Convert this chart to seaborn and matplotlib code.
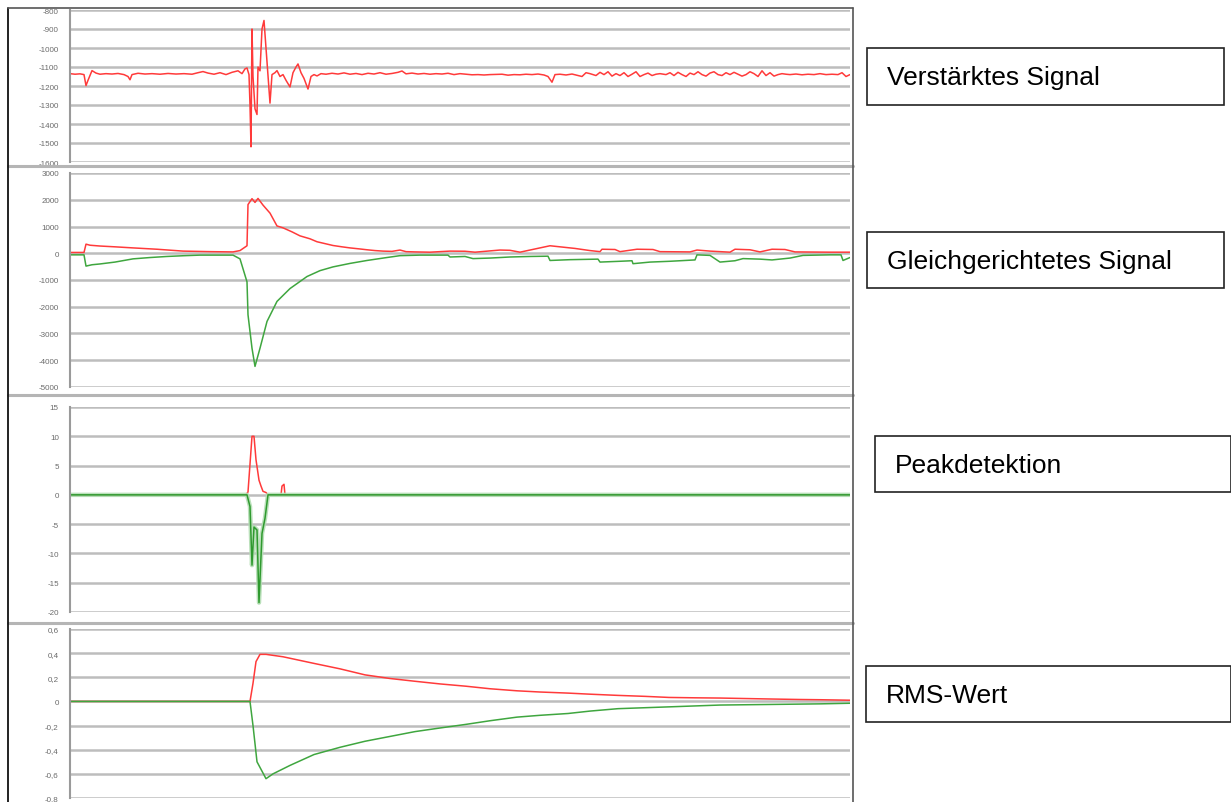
import numpy as np
import pandas as pd
import matplotlib
matplotlib.use("Agg")
import matplotlib.pyplot as plt
from matplotlib.patches import Rectangle
from matplotlib.lines import Line2D
import seaborn as sns

# ---------------- data (sample index, value) ----------------
t1 = [0, 5, 10, 14, 16, 18, 22, 26, 30, 36, 42, 48, 54, 58, 60, 62, 68, 75, 82, 90, 98, 106, 114, 122, 128, 133,
      138, 144, 150, 156, 162, 168, 172, 175, 177, 179, 180, 181, 182, 183, 185, 187, 188, 190, 192, 194, 196, 198,
      200, 202, 205, 207, 210, 213, 216, 220, 223, 226, 228, 231, 234, 238, 241, 244, 247, 251, 256, 262, 268, 274,
      280, 286, 292, 298, 304, 310, 316, 322, 328, 332, 336, 342, 348, 354, 360, 366, 372, 378, 384, 390, 396, 402,
      408, 414, 420, 426, 432, 438, 444, 450, 456, 462, 468, 474, 478, 482, 485, 490, 496, 502, 508, 512, 516, 520,
      526, 530, 534, 538, 542, 546, 550, 554, 558, 562, 566, 570, 574, 578, 582, 586, 590, 596, 600, 604, 608, 612,
      616, 620, 624, 628, 632, 636, 640, 644, 648, 652, 656, 660, 664, 668, 672, 676, 680, 684, 688, 692, 696, 700,
      704, 708, 712, 716, 720, 726, 732, 738, 744, 750, 756, 762, 768, 772, 776, 780]
v1 = [-1135, -1138, -1136, -1140, -1198, -1170, -1119, -1132, -1138, -1135, -1137, -1134, -1140, -1150, -1167, -1140,
      -1133, -1137, -1135, -1138, -1134, -1137, -1135, -1138, -1130, -1124, -1132, -1138, -1130, -1140, -1128, -1120,
      -1135, -1110, -1105, -1140, -1300, -1520, -900, -1150, -1320, -1350, -1100, -1120, -900, -855, -1000, -1150,
      -1290, -1140, -1130, -1119, -1150, -1140, -1170, -1205, -1130, -1100, -1084, -1130, -1160, -1216, -1150, -1140,
      -1147, -1135, -1138, -1133, -1137, -1131, -1138, -1134, -1140, -1133, -1137, -1130, -1138, -1134, -1128, -1121,
      -1136, -1132, -1137, -1134, -1138, -1135, -1137, -1133, -1140, -1135, -1138, -1141, -1140, -1142, -1140, -1139,
      -1138, -1143, -1140, -1141, -1138, -1140, -1137, -1142, -1150, -1180, -1140, -1138, -1142, -1137, -1145, -1150,
      -1130, -1135, -1145, -1128, -1140, -1125, -1148, -1135, -1145, -1130, -1150, -1138, -1125, -1150, -1140, -1132,
      -1145, -1138, -1135, -1140, -1130, -1145, -1128, -1140, -1150, -1132, -1140, -1125, -1140, -1148, -1132, -1125,
      -1140, -1145, -1130, -1140, -1128, -1138, -1148, -1140, -1125, -1135, -1150, -1120, -1145, -1130, -1148, -1140,
      -1135, -1138, -1140, -1137, -1141, -1138, -1140, -1135, -1140, -1138, -1140, -1130, -1150, -1140]

t2_pos = [0, 14, 16, 20, 30, 45, 63, 87, 113, 140, 163, 170, 177, 178, 182, 185, 188, 193, 200, 207, 213, 222, 230,
          240, 247, 255, 263, 272, 280, 290, 297, 305, 313, 322, 330, 336, 345, 360, 380, 395, 405, 430, 440, 450,
          480, 490, 505, 520, 530, 532, 545, 550, 567, 583, 590, 620, 627, 640, 660, 665, 680, 690, 702, 715, 725,
          760, 780]
v2_pos = [30, 30, 340, 300, 270, 240, 200, 150, 80, 60, 50, 100, 280, 1820, 2040, 1900, 2050, 1800, 1500, 1020, 950,
          800, 650, 540, 430, 360, 290, 240, 200, 160, 130, 100, 80, 70, 120, 60, 50, 40, 80, 75, 40, 120, 110, 40,
          280, 240, 180, 100, 60, 150, 140, 60, 150, 140, 60, 50, 120, 80, 40, 150, 130, 50, 150, 140, 50, 40, 40]

t2_neg = [0, 14, 16, 22, 30, 45, 63, 80, 97, 115, 130, 163, 170, 177, 178, 182, 185, 190, 197, 207, 220, 237, 250,
          263, 280, 297, 315, 330, 350, 378, 380, 395, 403, 420, 440, 460, 478, 480, 500, 528, 530, 550, 562, 563,
          580, 600, 625, 627, 640, 650, 665, 673, 690, 702, 720, 733, 760, 771, 773, 780]
v2_neg = [-60, -60, -480, -430, -400, -330, -210, -160, -120, -90, -70, -70, -210, -1070, -2300, -3550, -4230, -3550,
          -2550, -1800, -1320, -870, -650, -510, -380, -270, -170, -90, -70, -70, -140, -120, -200, -180, -140, -120,
          -110, -270, -240, -220, -330, -300, -280, -390, -330, -300, -250, -60, -80, -330, -280, -200, -220, -250,
          -180, -80, -60, -60, -270, -160]

t3_pos = [0, 176, 178, 182, 184, 186, 189, 191, 193, 196, 198, 211, 212, 214, 215, 780]
v3_pos = [0, 0, 0.5, 10, 10, 6, 2.5, 1.5, 0.6, 0.4, 0, 0, 1.5, 1.8, 0, 0]
t3_neg = [0, 177, 180, 182, 184, 187, 189, 192, 195, 198, 780]
v3_neg = [0, 0, -2, -12, -5.5, -6, -18.4, -6.6, -4, 0, 0]

t4_pos = [0, 180, 183, 186, 190, 196, 213, 244, 270, 295, 320, 345, 370, 396, 420, 447, 470, 498, 520, 548, 575,
          599, 625, 650, 675, 701, 730, 751, 780]
v4_pos = [0, 0, 0.15, 0.33, 0.39, 0.39, 0.37, 0.315, 0.27, 0.22, 0.19, 0.167, 0.145, 0.126, 0.105, 0.088, 0.078,
          0.069, 0.06, 0.05, 0.042, 0.033, 0.03, 0.028, 0.024, 0.02, 0.016, 0.014, 0.01]
t4_neg = [0, 180, 183, 187, 196, 203, 220, 244, 270, 295, 320, 345, 370, 396, 420, 447, 470, 498, 520, 548, 599,
          650, 701, 751, 780]
v4_neg = [0, 0, -0.2, -0.5, -0.64, -0.6, -0.53, -0.44, -0.38, -0.33, -0.29, -0.25, -0.22, -0.19, -0.16, -0.13,
          -0.115, -0.10, -0.08, -0.06, -0.045, -0.03, -0.025, -0.02, -0.015]

ticks1 = [-800, -900, -1000, -1100, -1200, -1300, -1400, -1500, -1600]
ticks2 = [3000, 2000, 1000, 0, -1000, -2000, -3000, -4000, -5000]
ticks3 = [15, 10, 5, 0, -5, -10, -15, -20]
ticks4 = [0.6, 0.4, 0.2, 0, -0.2, -0.4, -0.6, -0.8]
labels4 = ["0,6", "0,4", "0,2", "0", "-0,2", "-0,4", "-0,6", "-0,8"]

box_texts = ["Verstärktes Signal", "Gleichgerichtetes Signal", "Peakdetektion", "RMS-Wert"]

# ---------------- styling ----------------
sns.set_style("white")
plt.rcParams['font.family'] = ['Liberation Sans', 'DejaVu Sans']

W, H = 1231, 803
fig = plt.figure(figsize=(W / 100, H / 100), dpi=100)

def fx(x):
    return x / W

def fy(y):
    return 1 - y / H

RED = '#ff3a3a'
GREEN = '#3fa63f'
GRID = '#bdbdbd'

def make_ax(top, bottom, ylim, ticks, labels=None):
    ax = fig.add_axes([fx(70), fy(bottom), fx(850) - fx(70), fy(top) - fy(bottom)])
    ax.set_xlim(0, 780)
    ax.set_ylim(*ylim)
    ax.set_yticks(ticks)
    if labels is None:
        labels = [str(t) for t in ticks]
    ax.set_yticklabels(labels)
    ax.set_xticks([])
    ax.yaxis.grid(True, color=GRID, linewidth=1.8)
    ax.set_axisbelow(True)
    for s in ['top', 'right', 'bottom']:
        ax.spines[s].set_visible(False)
    ax.spines['left'].set_color('#9a9a9a')
    ax.spines['left'].set_linewidth(1.5)
    ax.tick_params(axis='y', length=5, width=1.2, color='#9a9a9a', labelsize=5.8,
                   labelcolor='#6a6a6a', pad=3, direction='out')
    ax.patch.set_alpha(0)
    return ax

ax1 = make_ax(11, 163, (-1600, -800), ticks1)
sns.lineplot(x=t1, y=v1, ax=ax1, color=RED, linewidth=1.1)

ax2 = make_ax(174, 388, (-5000, 3000), ticks2)
sns.lineplot(x=t2_pos, y=v2_pos, ax=ax2, color=RED, linewidth=1.1)
sns.lineplot(x=t2_neg, y=v2_neg, ax=ax2, color=GREEN, linewidth=1.1)

ax3 = make_ax(408, 613, (-20, 15), ticks3)
sns.lineplot(x=t3_pos, y=v3_pos, ax=ax3, color=RED, linewidth=1.1)
sns.lineplot(x=t3_neg, y=v3_neg, ax=ax3, color='#b3ddb3', linewidth=3.2, alpha=0.9)
sns.lineplot(x=t3_neg, y=v3_neg, ax=ax3, color='#2f9a2f', linewidth=1.1)

ax4 = make_ax(630, 799, (-0.8, 0.6), ticks4, labels4)
sns.lineplot(x=t4_pos, y=v4_pos, ax=ax4, color=RED, linewidth=1.1)
sns.lineplot(x=t4_neg, y=v4_neg, ax=ax4, color=GREEN, linewidth=1.1)

for ax in (ax1, ax2, ax3, ax4):
    ax.set_xlabel('')
    ax.set_ylabel('')

# panel separators
for ysep in (166.5, 396, 624):
    fig.add_artist(Line2D([fx(8), fx(853)], [fy(ysep), fy(ysep)], transform=fig.transFigure,
                          color='#b5b5b5', linewidth=2.2))

# outer frame
fig.add_artist(Line2D([fx(7.5), fx(7.5)], [fy(8.5), fy(803)], transform=fig.transFigure, color='#111111', linewidth=1.3))
fig.add_artist(Line2D([fx(7.5), fx(853)], [fy(8.5), fy(8.5)], transform=fig.transFigure, color='#555555', linewidth=1.2))
fig.add_artist(Line2D([fx(853), fx(853)], [fy(8.5), fy(803)], transform=fig.transFigure, color='#555555', linewidth=1.2))

# label boxes
boxes = [(867, 49, 1224, 106), (867, 233, 1224, 289), (875, 437, 1231, 493), (866, 667, 1231, 723)]
for (x0, y0, x1, y1), txt in zip(boxes, box_texts):
    fig.add_artist(Rectangle((fx(x0), fy(y1)), fx(x1) - fx(x0), fy(y0) - fy(y1), transform=fig.transFigure,
                             facecolor='white', edgecolor='#222222', linewidth=1.2))
    fig.text(fx(x0 + 20), fy((y0 + y1) / 2 + 1), txt, fontsize=19, color='black',
             ha='left', va='center')

fig.savefig('out.png', dpi=100)
